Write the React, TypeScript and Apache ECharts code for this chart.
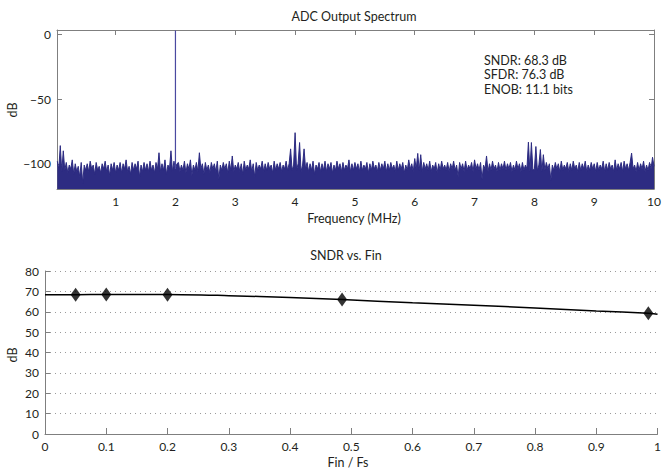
import { useEffect, useRef } from "react";
import * as echarts from "echarts";

const FONT = "Lato, 'Noto Sans', sans-serif";
const TEXT = "#231f20";
const AXIS = "#7f7f7f";
const NAVY = "#2d2c82";

// ---- Spectrum (top) ----
const BIN_STEP_MHZ = 0.025; // FFT bin spacing, bins 1..400
const spectrumDb = [
  -98, -104, -86, -106, -90, -105, -99, -107, -101, -104, -97, -108, -100, -106, -102, -110, -99, -115, -101, -105,
  -100, -106, -98, -104, -101, -108, -99, -105, -102, -107, -100, -104, -98, -106, -101, -109, -100, -105, -99, -107,
  -101, -105, -99, -107, -100, -104, -97, -106, -102, -108, -99, -105, -100, -104, -98, -110, -101, -106, -99, -105,
  -100, -106, -98, -105, -101, -107, -99, -104, -91.5, -106, -100, -105, -97, -108, -101, -104, -90, -106, -98, -104,
  -100, -99, -106, -101, -105, -98, -107, -100, -104, -97, -109, -101, -105, -99, -106, -91.5, -104, -100, -108, -99,
  -105, -101, -107, -99, -104, -100, -106, -98, -112, -101, -105, -99, -104, -100, -107, -98, -105, -94, -106, -101,
  -104, -99, -106, -100, -108, -98, -105, -101, -104, -97, -106, -100, -110, -99, -105, -101, -104, -98, -106, -100,
  -105, -99, -104, -101, -107, -98, -105, -100, -104, -99, -106, -101, -104, -98, -105, -100, -88.5, -105, -101, -76,
  -105, -100, -83.6, -106, -101, -88.5, -104, -99, -106, -100, -105, -98, -108, -101, -104, -99, -106, -100, -105, -98,
  -106, -100, -104, -99, -107, -101, -105, -98, -104, -100, -106, -99, -105, -101, -104, -97, -106, -100, -105, -99,
  -104, -100, -106, -98, -105, -101, -104, -99, -107, -100, -105, -98, -104, -101, -106, -99, -105, -100, -104, -98,
  -106, -100, -105, -99, -104, -101, -106, -98, -105, -100, -104, -99, -107, -101, -105, -97, -104, -100, -106, -96,
  -104, -92, -105, -93, -106, -99, -104, -100, -105, -98, -106, -101, -104, -99, -107, -100, -105, -98, -104, -101,
  -105, -99, -106, -100, -104, -98, -105, -101, -110, -99, -104, -100, -106, -98, -105, -101, -104, -99, -106, -97,
  -104, -100, -105, -99, -112, -101, -104, -94, -106, -100, -105, -98, -104, -101, -106, -99, -105, -100, -104, -98,
  -105, -100, -104, -99, -106, -101, -105, -98, -104, -100, -106, -99, -105, -101, -104, -83.3, -106, -83.6, -105, -104,
  -86.7, -105, -101, -89, -106, -93, -105, -99, -104, -100, -113, -101, -105, -99, -104, -100, -106, -98, -105, -101,
  -104, -99, -106, -100, -105, -98, -104, -101, -106, -99, -105, -100, -104, -98, -106, -101, -105, -99, -104, -100,
  -106, -99, -105, -101, -104, -98, -106, -100, -105, -99, -104, -101, -106, -97, -105, -100, -104, -99, -106, -98,
  -104, -100, -105, -99, -91.8, -104, -101, -106, -99, -105, -100, -104, -98, -106, -101, -105, -99, -104, -95, -102,
];
// fundamental input tone (single bin)
const toneFreqMHz = [2.0];
const toneDb = [3.0];
const spectrumXTicks = [1, 2, 3, 4, 5, 6, 7, 8, 9, 10];
const spectrumYTicks = [-100, -50, 0];
const SPEC_X_MIN = 0.02;
const SPEC_X_MAX = 10;
const SPEC_Y_MIN = -119.5;
const SPEC_Y_MAX = 3.3;
const statsLines = ["SNDR: 68.3 dB", "SFDR: 76.3 dB", "ENOB: 11.1 bits"];

// ---- SNDR vs Fin (bottom) ----
const finMeasured = [0.05, 0.1, 0.2, 0.485, 0.985];
const sndrMeasured = [68.4, 68.5, 68.4, 66.0, 59.3];
const finCurve = [0, 0.05, 0.1, 0.2, 0.3, 0.4, 0.485, 0.6, 0.7, 0.8, 0.9, 0.985, 1.0];
const sndrCurve = [68.3, 68.4, 68.5, 68.5, 67.9, 67.0, 66.0, 64.4, 63.2, 61.9, 60.4, 59.3, 58.8];

const minusFmt = (v: number) => (v < 0 ? "\u2212" + Math.abs(v) : String(v));

export default function App() {
  const ref = useRef<HTMLDivElement>(null);
  useEffect(() => {
    if (!ref.current) return;
    const chart = echarts.init(ref.current, undefined, { renderer: "svg" });
    const spectrumData = spectrumDb.map((v, i) => [(i + 1) * BIN_STEP_MHZ, v]);
    const toneData: (number[] | null)[] = [];
    toneFreqMHz.forEach((f, i) => {
      const floor = spectrumDb[Math.round(f / BIN_STEP_MHZ) - 1];
      toneData.push([f, floor], [f, toneDb[i]], null);
    });
    const labelStyle = { color: TEXT, fontSize: 12, fontFamily: FONT };
    const axisLine = { show: true, onZero: false, lineStyle: { color: AXIS, width: 1 } };
    const tickBase = { show: true, inside: true, length: 5, lineStyle: { color: AXIS } };
    const txt = (text: string, x: number, y: number, align = "center", rotation = 0, size = 12.5) => ({
      type: "text",
      x,
      y,
      rotation,
      silent: true,
      style: {
        text,
        fill: TEXT,
        fontSize: size,
        fontFamily: FONT,
        align,
        verticalAlign: "middle",
      },
    });

    chart.setOption({
      animation: false,
      backgroundColor: "#ffffff",
      grid: [
        { left: 57, top: 30, width: 601, height: 159 },
        { left: 45, top: 271, width: 613, height: 163 },
      ],
      xAxis: [
        {
          type: "value",
          gridIndex: 0,
          min: SPEC_X_MIN,
          max: SPEC_X_MAX,
          axisLine,
          axisTick: { ...tickBase, customValues: spectrumXTicks },
          axisLabel: { ...labelStyle, margin: 6, customValues: spectrumXTicks },
          splitLine: { show: false },
        },
        {
          type: "value",
          gridIndex: 0,
          position: "top",
          min: SPEC_X_MIN,
          max: SPEC_X_MAX,
          axisLine,
          axisTick: { ...tickBase, customValues: spectrumXTicks },
          axisLabel: { show: false },
          splitLine: { show: false },
        },
        {
          type: "value",
          gridIndex: 1,
          min: 0,
          max: 1,
          interval: 0.1,
          axisLine,
          axisTick: { ...tickBase, length: 6 },
          axisLabel: { ...labelStyle, margin: 6 },
          splitLine: { show: false },
        },
      ],
      yAxis: [
        {
          type: "value",
          gridIndex: 0,
          min: SPEC_Y_MIN,
          max: SPEC_Y_MAX,
          axisLine,
          axisTick: { ...tickBase, customValues: spectrumYTicks },
          axisLabel: { ...labelStyle, margin: 6, customValues: spectrumYTicks, formatter: minusFmt },
          splitLine: { show: false },
        },
        {
          type: "value",
          gridIndex: 0,
          position: "right",
          min: SPEC_Y_MIN,
          max: SPEC_Y_MAX,
          axisLine,
          axisTick: { ...tickBase, customValues: spectrumYTicks },
          axisLabel: { show: false },
          splitLine: { show: false },
        },
        {
          type: "value",
          gridIndex: 1,
          min: 0,
          max: 80,
          interval: 10,
          axisLine,
          axisTick: { ...tickBase },
          axisLabel: { ...labelStyle, margin: 6 },
          splitLine: { show: true, lineStyle: { color: "#9a9a9a", width: 1, type: [1, 4] } },
        },
      ],
      series: [
        {
          type: "line",
          xAxisIndex: 0,
          yAxisIndex: 0,
          data: spectrumData,
          showSymbol: false,
          symbol: "none",
          clip: true,
          lineStyle: { color: NAVY, width: 1 },
          areaStyle: { color: NAVY, opacity: 1, origin: "start" },
          z: 2,
        },
        {
          type: "line",
          xAxisIndex: 0,
          yAxisIndex: 0,
          data: toneData,
          showSymbol: false,
          symbol: "none",
          clip: true,
          lineStyle: { color: "#4a49a0", width: 1.2 },
          z: 3,
        },
        {
          type: "line",
          xAxisIndex: 2,
          yAxisIndex: 2,
          data: finCurve.map((f, i) => [f, sndrCurve[i]]),
          showSymbol: false,
          symbol: "none",
          smooth: 0.3,
          lineStyle: { color: "#000000", width: 1.5 },
          z: 3,
        },
        {
          type: "scatter",
          xAxisIndex: 2,
          yAxisIndex: 2,
          data: finMeasured.map((f, i) => [f, sndrMeasured[i]]),
          symbol: "diamond",
          symbolSize: [10, 14],
          itemStyle: { color: "#000000" },
          z: 4,
        },
      ],
      graphic: [
        txt("ADC Output Spectrum", 354, 16),
        txt("Frequency (MHz)", 354, 218),
        txt("dB", 12, 110, "center", Math.PI / 2),
        txt(statsLines[0], 484, 60, "left"),
        txt(statsLines[1], 484, 74.5, "left"),
        txt(statsLines[2], 484, 89, "left"),
        txt("SNDR vs. Fin", 346, 255),
        txt("Fin / Fs", 348, 462),
        txt("dB", 12, 355, "center", Math.PI / 2),
      ],
    });
    return () => chart.dispose();
  }, []);
  return (
    <div
      ref={ref}
      style={{ position: "fixed", left: 0, top: 0, width: 664, height: 469, background: "#fff" }}
    />
  );
}
